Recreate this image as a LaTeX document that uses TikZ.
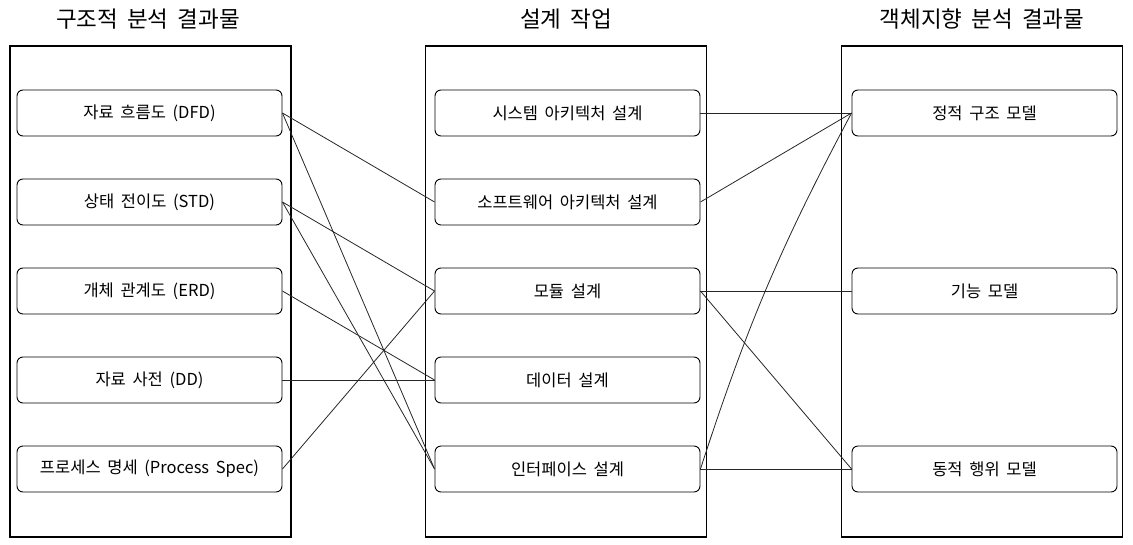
\documentclass[tikz,border=0pt]{standalone}
\usepackage{fontspec}
\setmainfont[WordSpace=1.8]{Noto Sans CJK KR}
\usepackage{tikz}
\def\colnode{\node[draw=black, line width=1.2pt, minimum width=281pt, minimum height=491pt, inner sep=0pt]}
\def\itemnode{\node[draw=black, line width=0.9pt, rounded corners=6pt, minimum width=265pt, minimum height=46pt, inner sep=0pt, font=\fontsize{16.5}{19}\selectfont]}
\def\titlenode{\node[font=\fontsize{22.5}{26}\selectfont, inner sep=0pt]}
\def\drawlink{\draw[color=black!85, line width=0.8pt]}

\begin{document}
\begin{tikzpicture}[x=1pt,y=-1pt]
\useasboundingbox (0,0) rectangle (1133,544);

% -------- the three columns ---------
\colnode (left_col) at (150.5,291.5) {};
\colnode (mid_col) at (566,291.5) {};
\colnode (right_col) at (982,291.5) {};
\titlenode (left_title) at (148,19) {구조적 분석 결과물};
\titlenode (mid_title) at (566,19) {설계 작업};
\titlenode (right_title) at (982,19) {객체지향 분석 결과물};

% -------- structured analysis (left) ---------
\itemnode (dfd) at (149.5,113) {자료 흐름도 (DFD)};
\itemnode (std) at (149.5,202) {상태 전이도 (STD)};
\itemnode (erd) at (149.5,291) {개체 관계도 (ERD)};
\itemnode (dd) at (149.5,380) {자료 사전 (DD)};
\itemnode (pspec) at (149.5,469) {프로세스 명세 (Process Spec)};

% -------- design tasks (middle) ---------
\itemnode (sys_arch) at (567.5,113) {시스템 아키텍처 설계};
\itemnode (sw_arch) at (567.5,202) {소프트웨어 아키텍처 설계};
\itemnode (module) at (567.5,291) {모듈 설계};
\itemnode (data) at (567.5,380) {데이터 설계};
\itemnode (iface) at (567.5,469) {인터페이스 설계};

% -------- object oriented analysis (right) ---------
\itemnode (static) at (984.5,113) {정적 구조 모델};
\itemnode (func) at (984.5,291) {기능 모델};
\itemnode (dynamic) at (984.5,469) {동적 행위 모델};

% left to middle
\drawlink (dfd.east) -- (sw_arch.west);
\drawlink (dfd.east) -- (iface.west);
\drawlink (std.east) -- (module.west);
\drawlink (std.east) -- (iface.west);
\drawlink (erd.east) -- (data.west);
\drawlink (dd.east) -- (data.west);
\drawlink (pspec.east) -- (module.west);

% middle to right
\drawlink (sys_arch.east) -- (static.west);
\drawlink (sw_arch.east) -- (static.west);
\drawlink (module.east) -- (func.west);
\drawlink (module.east) -- (dynamic.west);
\drawlink (iface.east) to[bend left=5] (static.west); % slightly curved one
\drawlink (iface.east) -- (dynamic.west);
\end{tikzpicture}
\end{document}
